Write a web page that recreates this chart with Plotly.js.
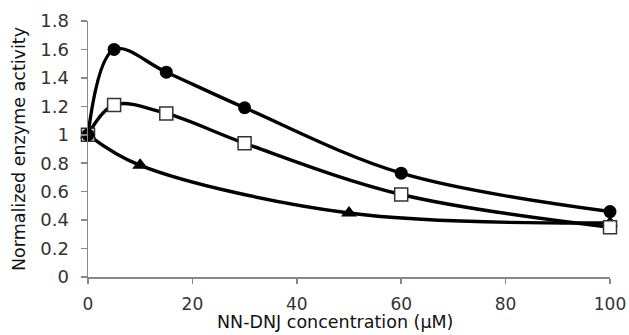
<!DOCTYPE html>
<html>
<head>
<meta charset="utf-8">
<script src="https://cdn.plot.ly/plotly-3.0.1.min.js"></script>
<style>html,body{margin:0;padding:0;background:#fff;}#chart{width:629px;height:335px;}</style>
</head>
<body>
<div id="chart"></div>
<script>
var circleX = [0, 5, 15, 30, 60, 100];
var circleY = [1, 1.6, 1.44, 1.19, 0.73, 0.46];
var squareX = [0, 5, 15, 30, 60, 100];
var squareY = [1, 1.21, 1.15, 0.94, 0.58, 0.35];
var triangleX = [0, 10, 50, 100];
var triangleY = [1, 0.785, 0.45, 0.38];
var xTicks = [0, 20, 40, 60, 80, 100];
var yTicks = [0, 0.2, 0.4, 0.6, 0.8, 1, 1.2, 1.4, 1.6, 1.8];
var xTitle = 'NN-DNJ concentration (μM)';
var yTitle = 'Normalized enzyme activity';

var lineStyle = {color: '#000', width: 3.4, shape: 'spline', smoothing: 1};
var traces = [
  {x: triangleX, y: triangleY, mode: 'lines+markers', line: lineStyle,
   marker: {symbol: 'triangle-up', size: 14, color: '#000'}, cliponaxis: false},
  {x: squareX, y: squareY, mode: 'lines+markers', line: lineStyle,
   marker: {symbol: 'square', size: 13, color: '#fff', line: {color: '#333', width: 1.5}}, cliponaxis: false},
  {x: circleX, y: circleY, mode: 'lines+markers', line: lineStyle,
   marker: {symbol: 'circle', size: 13, color: '#000'}, cliponaxis: false}
];

var layout = {
  width: 629, height: 335,
  margin: {l: 88, r: 19, t: 21, b: 58},
  paper_bgcolor: '#fff', plot_bgcolor: '#fff',
  showlegend: false,
  font: {family: 'DejaVu Sans, Verdana, sans-serif', color: '#222'},
  xaxis: {
    range: [0, 100], tickvals: xTicks, ticktext: xTicks.map(String),
    showgrid: false, zeroline: false, showline: true, linecolor: '#888', linewidth: 1.5,
    ticks: 'outside', ticklen: 5, tickcolor: '#888', tickwidth: 1.5,
    tickfont: {size: 17, color: '#333'}, ticklabelstandoff: 6
  },
  yaxis: {
    range: [0, 1.8], tickvals: yTicks, ticktext: yTicks.map(function(v){return String(Math.round(v*10)/10);}),
    showgrid: false, zeroline: false, showline: true, linecolor: '#888', linewidth: 1.5,
    ticks: 'outside', ticklen: 6, tickcolor: '#888', tickwidth: 1.5,
    tickfont: {size: 18, color: '#333'}, ticklabelstandoff: 8,
    title: {text: yTitle, font: {size: 17.5, color: '#111'}, standoff: 10}
  },
  annotations: [{
    text: xTitle, xref: 'paper', yref: 'paper', x: 0.473, y: -0.176,
    xanchor: 'center', yanchor: 'middle', showarrow: false,
    font: {size: 17.5, color: '#111'}
  }]
};

Plotly.newPlot('chart', traces, layout, {displayModeBar: false, staticPlot: true});
</script>
</body>
</html>
